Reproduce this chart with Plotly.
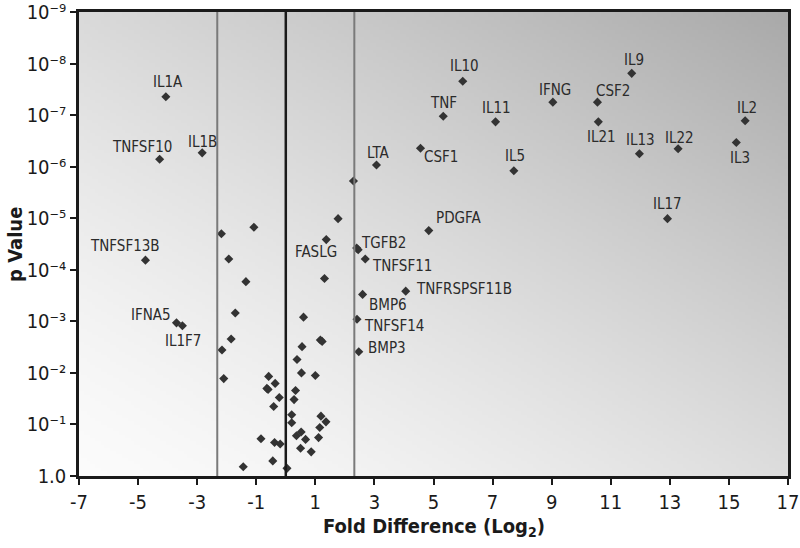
import base64
import struct
import zlib

import numpy as np
import plotly.graph_objects as go

# Labelled genes: fold difference (log2) and p value
genes = ["IL1A", "TNFSF10", "IL1B", "TNFSF13B", "IFNA5", "IL1F7", "FASLG", "TGFB2",
         "TNFSF11", "TNFRSPSF11B", "BMP6", "TNFSF14", "BMP3", "PDGFA", "LTA", "CSF1",
         "IL10", "TNF", "IL11", "IFNG", "IL5", "IL9", "CSF2", "IL21", "IL13", "IL22",
         "IL2", "IL3", "IL17"]
gene_fold = [-4.06, -4.27, -2.83, -4.75, -3.70, -3.50, 1.37, 2.45,
             2.69, 4.06, 2.60, 2.41, 2.47, 4.84, 3.07, 4.56,
             5.99, 5.33, 7.10, 9.04, 7.72, 11.71, 10.55, 10.58, 11.97, 13.28,
             15.55, 15.25, 12.92]
gene_p = [4.4e-8, 7.2e-7, 5.4e-7, 6.5e-5, 1.07e-3, 1.22e-3, 2.6e-5, 4.1e-5,
          6.2e-5, 2.6e-4, 3.0e-4, 9.1e-4, 3.9e-3, 1.74e-5, 9.3e-7, 4.4e-7,
          2.2e-8, 1.05e-7, 1.35e-7, 5.6e-8, 1.2e-6, 1.55e-8, 5.6e-8, 1.35e-7, 5.6e-7, 4.5e-7,
          1.29e-7, 3.4e-7, 1.02e-5]
# label offsets in pixels (x, y up)
label_shift = [(2, 15), (-18, 12), (0, 11), (-20, 14), (-25, 8), (1, -15), (-10, -12), (25, 7),
               (37, -7), (58, 2), (25, -11), (37, -7), (28, 4), (30, 13), (2, 12), (20, -9),
               (2, 15), (0, 13), (1, 14), (2, 12), (1, 15), (2, 13), (16, 11), (3, -15), (1, 14), (1, 11),
               (2, 13), (4, -15), (0, 15)]

# Unlabelled genes
other_fold = [2.29, 1.77, -2.18, -1.08, 2.40, -1.93, -1.35, 1.31, -1.71, 0.60,
              -1.85, 1.17, 1.23, 0.55, -2.16, 0.38, -2.10, -0.58, -0.36, -0.64,
              -0.60, 0.53, 1.00, 0.33, -0.22, 0.28, -0.41, 0.20, 0.20, 1.19,
              1.36, 1.15, 1.11, 0.52, 0.36, 0.67, -0.84, -0.38, -0.19, 0.50,
              0.86, -0.44, -1.44, 0.04]
other_p = [1.9e-6, 1.02e-5, 2.0e-5, 1.5e-5, 3.8e-5, 6.2e-5, 1.7e-4, 1.48e-4, 6.9e-4, 8.3e-4,
           2.2e-3, 2.3e-3, 2.45e-3, 3.1e-3, 3.6e-3, 5.5e-3, 1.29e-2, 1.17e-2, 1.6e-2, 2.0e-2,
           2.1e-2, 1.0e-2, 1.12e-2, 2.2e-2, 3.0e-2, 3.3e-2, 4.5e-2, 6.5e-2, 9.3e-2, 6.9e-2,
           8.9e-2, 0.115, 0.18, 0.14, 0.166, 0.195, 0.19, 0.224, 0.24, 0.29,
           0.34, 0.51, 0.66, 0.71]

fold_cutoff = 2.32
p_cutoff = 0.0047

y_tickvals = [1e-9, 1e-8, 1e-7, 1e-6, 1e-5, 1e-4, 1e-3, 1e-2, 1e-1, 1]
y_ticktext = ["10⁻⁹", "10⁻⁸", "10⁻⁷", "10⁻⁶", "10⁻⁵", "10⁻⁴", "10⁻³", "10⁻²", "10⁻¹", "1.0"]
x_tickvals = [-7, -5, -3, -1, 1, 3, 5, 7, 9, 11, 13, 15, 17]
x_ticktext = ["-7", "-5", "-3", "-1", "1", "3", "5", "7", "9", "11", "13", "15", "17"]

FONT = "Liberation Sans Narrow, DejaVu Sans Condensed, Arial Narrow, sans-serif"


def gradient_png(w, h):
    # grey diagonal gradient, light bottom-left to dark top-right
    rows = []
    for j in range(h):
        v = 1 - j / (h - 1)
        row = bytearray([0])
        for i in range(w):
            u = i / (w - 1)
            t = 0.48 * u + 0.52 * v
            g = int(round(251 - 82 * t ** 1.35))
            row += bytes([g, g, g])
        rows.append(bytes(row))
    raw = b"".join(rows)

    def chunk(tag, data):
        return (struct.pack(">I", len(data)) + tag + data
                + struct.pack(">I", zlib.crc32(tag + data) & 0xffffffff))

    png = (b"\x89PNG\r\n\x1a\n"
           + chunk(b"IHDR", struct.pack(">IIBBBBB", w, h, 8, 2, 0, 0, 0))
           + chunk(b"IDAT", zlib.compress(raw))
           + chunk(b"IEND", b""))
    return "data:image/png;base64," + base64.b64encode(png).decode()


fig = go.Figure()

marker = dict(symbol="diamond", size=7, color="#333333", line_width=0)
fig.add_trace(go.Scatter(x=other_fold, y=other_p, mode="markers", marker=marker,
                         hoverinfo="x+y", cliponaxis=False))
fig.add_trace(go.Scatter(x=gene_fold, y=gene_p, mode="markers", marker=marker,
                         text=genes, hoverinfo="text+x+y", cliponaxis=False))

for name, fx, p, (dx, dy) in zip(genes, gene_fold, gene_p, label_shift):
    fig.add_annotation(x=fx, y=np.log10(p), text=name, showarrow=False,
                       xshift=dx, yshift=dy, xanchor="center", yanchor="middle",
                       font=dict(family=FONT, size=15, color="#2b2b2b"))

# cutoff lines
for fx, col, w in [(-fold_cutoff, "#7a7a7a", 2), (fold_cutoff, "#7a7a7a", 2), (0, "#1a1a1a", 2.5)]:
    fig.add_shape(type="line", xref="x", yref="paper", x0=fx, x1=fx, y0=0, y1=1,
                  line=dict(color=col, width=w))
fig.add_shape(type="line", xref="paper", yref="y", x0=0, x1=1,
              y0=np.log10(p_cutoff), y1=np.log10(p_cutoff),
              line=dict(color="#2a2a2a", width=2))

fig.add_layout_image(dict(source=gradient_png(240, 140), xref="paper", yref="paper",
                          x=0, y=1, sizex=1, sizey=1, sizing="stretch",
                          xanchor="left", yanchor="top", layer="below"))

# axis titles
fig.add_annotation(text="<b>Fold Difference (Log<sub>2</sub>)</b>", xref="paper", yref="paper",
                   x=0.5, y=0, yshift=-51, xanchor="center", yanchor="middle", showarrow=False,
                   font=dict(family=FONT, size=20, color="#1a1a1a"))
fig.add_annotation(text="<b>p Value</b>", xref="paper", yref="paper", textangle=-90,
                   x=0, y=0.498, xshift=-64, xanchor="center", yanchor="middle", showarrow=False,
                   font=dict(family=FONT, size=20, color="#1a1a1a"))

fig.update_layout(
    width=800, height=548,
    margin=dict(l=79, r=12, t=12, b=72),
    paper_bgcolor="white",
    plot_bgcolor="rgba(0,0,0,0)",
    showlegend=False,
    font=dict(family=FONT, color="#1a1a1a"),
)
fig.update_xaxes(
    range=[-7, 17], tickvals=x_tickvals, ticktext=x_ticktext,
    showgrid=False, zeroline=False, automargin=False, ticklabeloverflow="allow",
    showline=True, mirror=True, linecolor="#1a1a1a", linewidth=2.5,
    ticks="outside", ticklen=6, tickwidth=2, tickcolor="#1a1a1a",
    tickfont=dict(size=20, family=FONT),
)
fig.update_yaxes(
    type="log", range=[0, -9], tickvals=y_tickvals, ticktext=y_ticktext,
    showgrid=False, zeroline=False, automargin=False, ticklabeloverflow="allow",
    showline=True, mirror=True, linecolor="#1a1a1a", linewidth=2.5,
    ticks="outside", ticklen=6, tickwidth=2, tickcolor="#1a1a1a",
    tickfont=dict(size=20, family=FONT),
)

fig.write_html("out.html", config={"displayModeBar": False},
               post_script="document.body.style.margin='0';")
